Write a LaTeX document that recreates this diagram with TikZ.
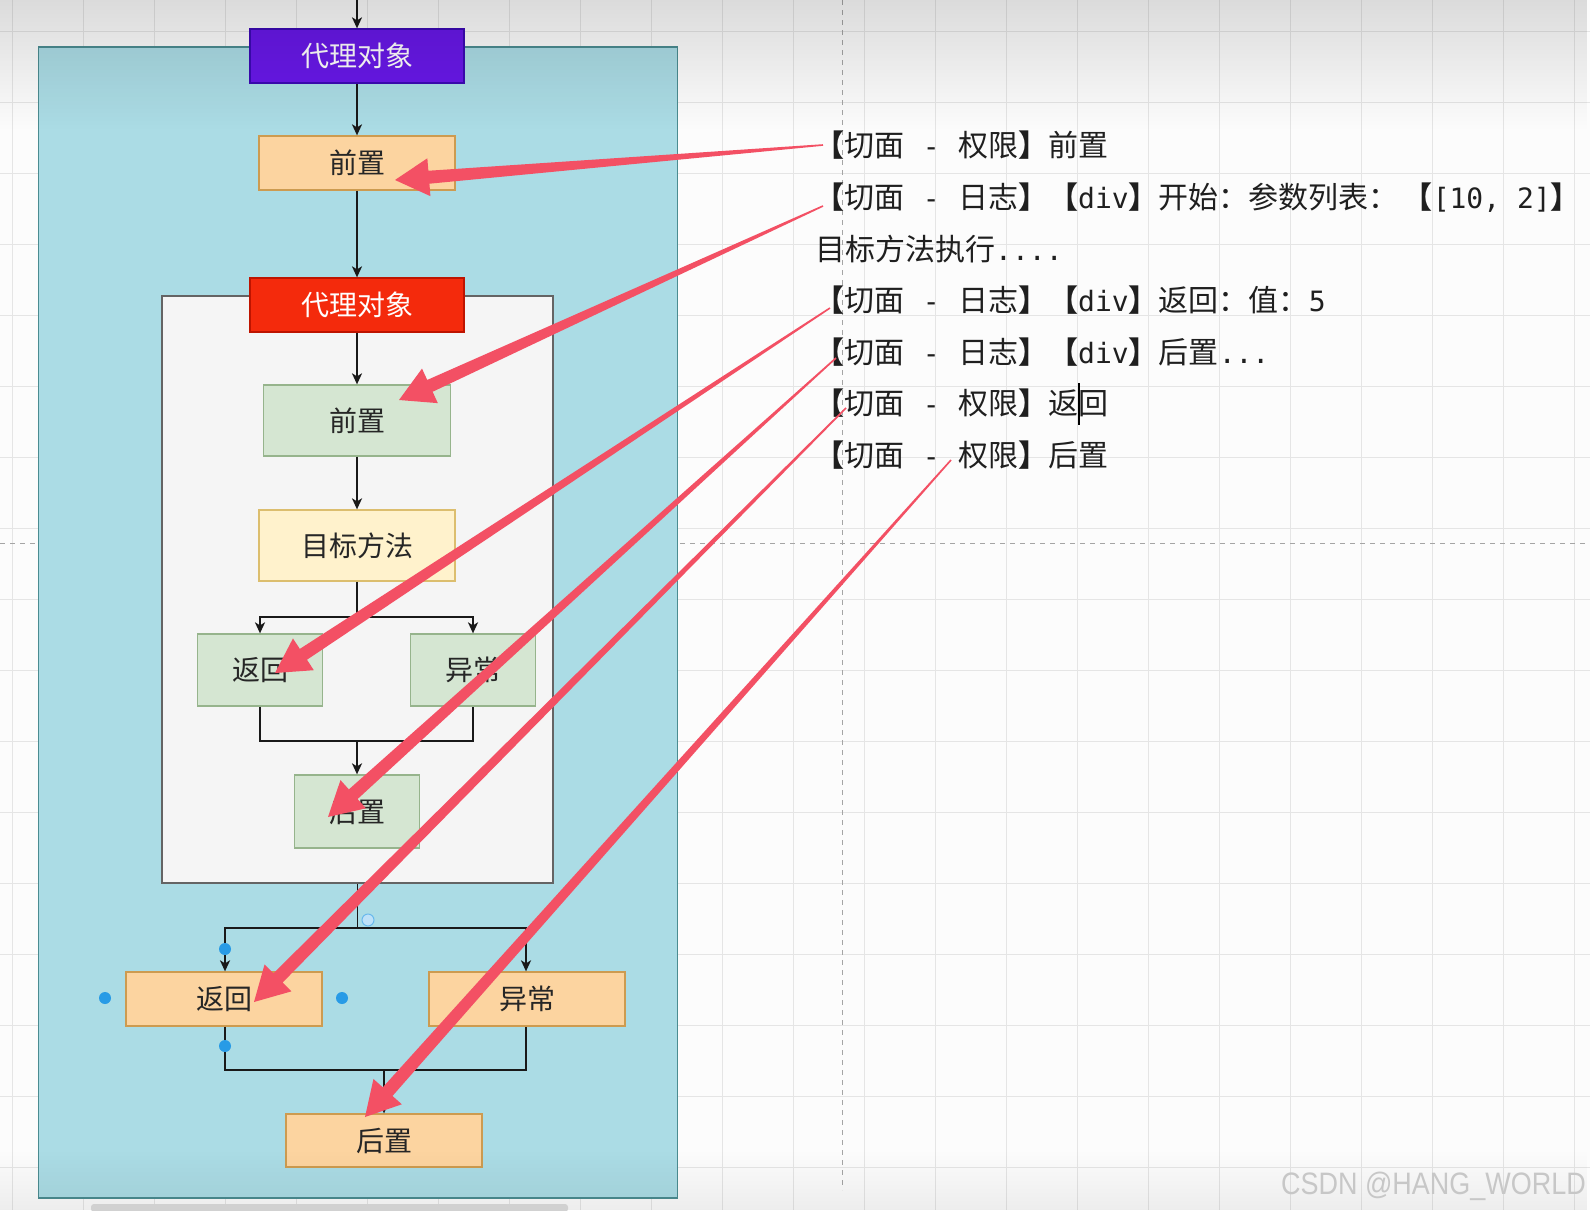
\documentclass[tikz,border=0pt]{standalone}
\usepackage{fontspec}
\setmainfont{Noto Sans CJK SC}
\newfontfamily\cjkf{Noto Sans CJK SC}
\newfontfamily\monof{DejaVu Sans Mono}
\newfontfamily\wmf{Liberation Sans}
\usetikzlibrary{arrows.meta,calc,fadings}

\definecolor{bgc}{RGB}{252,252,252}
\definecolor{gridc}{RGB}{229,229,229}
\definecolor{dashcol}{RGB}{165,165,165}
\definecolor{outfill}{RGB}{171,220,229}
\definecolor{outdraw}{RGB}{75,140,145}
\definecolor{innfill}{RGB}{245,245,245}
\definecolor{inndraw}{RGB}{100,100,100}
\definecolor{purfill}{RGB}{104,24,232}
\definecolor{purdraw}{RGB}{60,10,180}
\definecolor{redfill}{RGB}{244,42,12}
\definecolor{reddraw}{RGB}{190,20,0}
\definecolor{orfill}{RGB}{252,212,160}
\definecolor{ordraw}{RGB}{205,155,80}
\definecolor{grfill}{RGB}{213,230,210}
\definecolor{grdraw}{RGB}{150,180,140}
\definecolor{yefill}{RGB}{255,242,204}
\definecolor{yedraw}{RGB}{220,190,110}
\definecolor{arrred}{RGB}{243,80,100}
\definecolor{dotc}{RGB}{40,155,230}
\definecolor{linec}{RGB}{25,25,25}

\newcommand\mt[1]{{\monof\fontsize{28}{34}\selectfont #1}}
\newcommand\dsh{\makebox[54pt]{\mt{-}}}
\newcommand\lbk{{\bfseries 【}}
\newcommand\rbk{{\bfseries 】}}
\newcommand\redarrow[2]{%
  \coordinate (ab) at ($(#2)!34pt!(#1)$);
  \fill[arrred] ($(#1)!0.8pt!90:(#2)$) -- ($(ab)!6.5pt!90:(#2)$) -- ($(ab)!19pt!90:(#2)$) -- (#2)
    -- ($(ab)!19pt!-90:(#2)$) -- ($(ab)!6.5pt!-90:(#2)$) -- ($(#1)!0.8pt!-90:(#2)$) -- cycle;}

\begin{document}
\begin{tikzpicture}[x=1pt,y=-1pt,
  box/.style={draw, line width=1.3pt, inner sep=0pt, font=\cjkf\fontsize{28}{32}\selectfont, text=black!85},
  orbox/.style={box, fill=orfill, draw=ordraw, minimum width=196pt, minimum height=54pt},
  grbox/.style={box, fill=grfill, draw=grdraw, minimum width=125pt, minimum height=72pt},
  conn/.style={draw=linec, line width=1.8pt},
  arr/.style={conn, -{Stealth[length=11pt,width=10pt,inset=3pt]}},
  txt/.style={inner sep=0pt, font=\cjkf\fontsize{30}{36}\selectfont, text=black!88},
  gridline/.style={draw=gridc, line width=1pt},
  dashline/.style={draw=dashcol, line width=1pt, dash pattern=on 5pt off 5pt}
]
\useasboundingbox (0,0) rectangle (1590,1210);
\fill[bgc] (0,0) rectangle (1590,1210);
\foreach \i in {0,...,22} \draw[gridline] ({12+71*\i},0) -- ({12+71*\i},1210);
\foreach \j in {0,...,16} \draw[gridline] (0,{31+71*\j}) -- (1590,{31+71*\j});
\draw[dashline] (0,543) -- (1590,543);
\draw[dashline] (842,0) -- (842,1190);

% containers
\node[draw=outdraw, fill=outfill, line width=1.5pt, minimum width=639pt, minimum height=1151pt, inner sep=0pt] (outer) at (358,622.5) {};
\node[draw=inndraw, fill=innfill, line width=1.3pt, minimum width=391pt, minimum height=587pt, inner sep=0pt] (inner) at (357.5,589.5) {};

% nodes
\node[box, fill=purfill, draw=purdraw, text=white, minimum width=214pt, minimum height=54pt] (proxy1) at (357,56) {代理对象};
\node[orbox] (pre1) at (357,163) {前置};
\node[box, fill=redfill, draw=reddraw, text=white, minimum width=214pt, minimum height=54pt] (proxy2) at (357,305) {代理对象};
\node[grbox, minimum width=187pt, minimum height=71pt] (pre2) at (357,420.5) {前置};
\node[box, fill=yefill, draw=yedraw, minimum width=196pt, minimum height=71pt] (target) at (357,545.5) {目标方法};
\node[grbox] (ret2) at (260,670) {返回};
\node[grbox] (exc2) at (473,670) {异常};
\node[grbox, minimum height=73pt] (post2) at (357,811.5) {后置};
\node[orbox] (ret1) at (224,999) {返回};
\node[orbox] (exc1) at (527,999) {异常};
\node[orbox, minimum height=53pt] (post1) at (384,1140.5) {后置};

% connectors
\coordinate (top) at (357,0);
\draw[arr] (top) -- (proxy1.north);
\draw[arr] (proxy1.south) -- (pre1.north);
\draw[arr] (pre1.south) -- (proxy2.north);
\draw[arr] (proxy2.south) -- (pre2.north);
\draw[arr] (pre2.south) -- (target.north);
\coordinate (b1) at (357,617);
\draw[conn] (target.south) -- (b1);
\draw[arr] (b1) -| (ret2.north);
\draw[arr] (b1) -| (exc2.north);
\coordinate (m1) at (357,741);
\draw[conn] (ret2.south) |- (m1) -| (exc2.south);
\draw[arr] (m1) -- (post2.north);
\coordinate (b2) at (357.5,928);
\draw[conn] (inner.south) -- (b2);
\draw[arr] (b2) -| ([xshift=1pt]ret1.north);
\draw[arr] (b2) -| ([xshift=-1pt]exc1.north);
\coordinate (m2) at (384,1070);
\draw[conn] ([xshift=1pt]ret1.south) |- (m2) -| ([xshift=-1pt]exc1.south);
\draw[arr] (m2) -- (post1.north);

% top / bottom screen shading
\fill[black, opacity=0.13, path fading=south] (0,0) rectangle (1590,130);
\fill[black, opacity=0.06, path fading=north] (0,1150) rectangle (1590,1210);
\fill[black!18, rounded corners=3pt] (91,1204) rectangle (568,1212);

% right-hand text
\node[txt, anchor=base west] (l1) at (814,156) {\lbk 切面\dsh 权限\rbk 前置};
\node[txt, anchor=base west] (l2) at (814,208) {\lbk 切面\dsh 日志\rbk\lbk\mt{div}\rbk 开始：参数列表：\hspace{4pt}\lbk\mt{[10, 2]}\rbk};
\node[txt, anchor=base west] (l3) at (815,260) {目标方法执行\mt{....}};
\node[txt, anchor=base west] (l4) at (814,311) {\lbk 切面\dsh 日志\rbk\lbk\mt{div}\rbk 返回：值：\mt{5}};
\node[txt, anchor=base west] (l5) at (814,363) {\lbk 切面\dsh 日志\rbk\lbk\mt{div}\rbk 后置\mt{...}};
\node[txt, anchor=base west] (l6) at (814,414) {\lbk 切面\dsh 权限\rbk 返回};
\node[txt, anchor=base west] (l7) at (814,466) {\lbk 切面\dsh 权限\rbk 后置};
\draw[black, line width=2pt] (1079,383) -- (1079,425);

% red annotation arrows
\coordinate (s1) at (823,145);  \coordinate (t1) at (395,180);
\coordinate (s2) at (823,206);  \coordinate (t2) at (399,400);
\coordinate (s3) at (830,308);  \coordinate (t3) at (275,673);
\coordinate (s4) at (836,358);  \coordinate (t4) at (328,817);
\coordinate (s5) at (846,408);  \coordinate (t5) at (254,1002);
\coordinate (s6) at (951,460);  \coordinate (t6) at (365,1117);
\redarrow{s1}{t1}
\redarrow{s2}{t2}
\redarrow{s3}{t3}
\redarrow{s4}{t4}
\redarrow{s5}{t5}
\redarrow{s6}{t6}

% selection handles
\fill[dotc] (105,998) circle (6pt);
\fill[dotc] (225,949) circle (6pt);
\fill[dotc] (342,998) circle (6pt);
\fill[dotc] (225,1046) circle (6pt);
\draw[dotc!70, fill=dotc!30, line width=1pt] (368,920) circle (6pt);

% watermark
\node[anchor=base east, inner sep=0pt, font=\wmf\fontsize{31}{34}\selectfont, text=black!22] (wm) at (1586,1194) {\scalebox{0.87}[1]{CSDN @HANG\_WORLD}};
\end{tikzpicture}
\end{document}
